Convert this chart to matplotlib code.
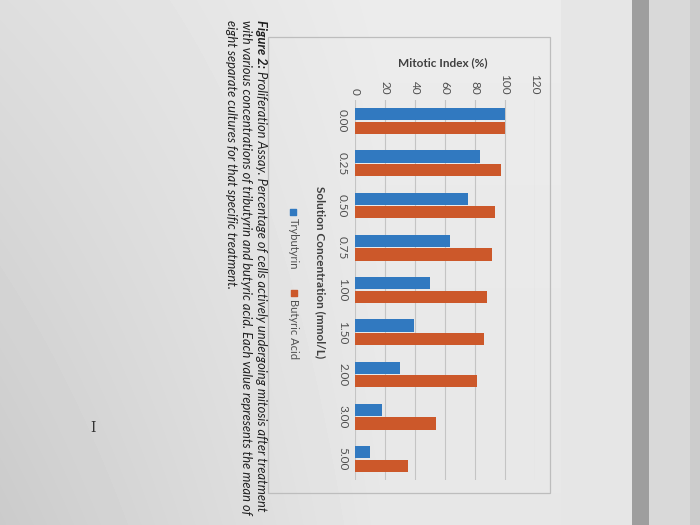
import numpy as np
import matplotlib
matplotlib.use("Agg")
import matplotlib.pyplot as plt
from matplotlib.patches import Rectangle

# ---- data ----
categories = ["0.00", "0.25", "0.50", "0.75", "1.00", "1.50", "2.00", "3.00", "5.00"]
tributyrin = [100, 83, 75, 63, 50, 39, 30, 18, 10]
butyric_acid = [100, 97, 93, 91, 88, 86, 81, 54, 35]
series_names = ["Trybutyrin", "Butyric Acid"]
value_ticks = [0, 20, 40, 60, 80, 100, 120]
value_title = "Mitotic Index (%)"
category_title = "Solution Concentration (mmol/L)"
caption_bold = "Figure 2:"
caption_lines = [
    " Proliferation Assay. Percentage of cells actively undergoing mitosis after treatment",
    "with various concentrations of tributyrin and butyric acid. Each value represents the mean of",
    "eight separate cultures for that specific treatment.",
]

blue = "#3179c0"
orange = "#cc582a"
plt.rcParams["font.family"] = ["Lato", "DejaVu Sans"]

W, H = 700, 525
fig = plt.figure(figsize=(7, 5.25), dpi=100)

# ---- photo-like background ----
bg = fig.add_axes([0, 0, 1, 1])
xx, yy = np.meshgrid(np.arange(W), np.arange(H))
v = 0.925 - 0.11 * np.clip((380 - xx) / 380, 0, 1) * (0.5 + 0.5 * yy / H) - 0.02 * (yy / H)
v = np.where(xx > 560, 0.90, v)
v = np.where((xx >= 632) & (xx < 649), 0.62, v)
v = np.where((xx >= 649) & (xx < 690), 0.85, v)
v = np.where(xx >= 690, 0.80, v)
bg.imshow(v, extent=[0, W, H, 0], aspect="auto", cmap="gray", vmin=0, vmax=1,
          interpolation="bilinear")
bg.set_xlim(0, W)
bg.set_ylim(H, 0)
bg.axis("off")
bg.add_patch(Rectangle((268, 37), 282, 456, fill=False, edgecolor="#bdbdbd", lw=0.9))

# ---- chart (rotated appearance: horizontal bars) ----
ax = fig.add_axes([355 / W, 1 - 480 / H, 180 / W, 380 / H])
ax.patch.set_alpha(0)
pos = np.arange(len(categories))
h = 0.29
ax.barh(pos - h / 2 - 0.015, tributyrin, h, color=blue, zorder=3)
ax.barh(pos + h / 2 + 0.015, butyric_acid, h, color=orange, zorder=3)
ax.set_xlim(0, 120)
ax.set_ylim(len(categories) - 0.5, -0.5)
ax.set_xticks(value_ticks)
ax.set_xticklabels([str(t) for t in value_ticks], rotation=-90, fontsize=8.5, color="#505050")
ax.xaxis.tick_top()
ax.set_yticks(pos)
ax.set_yticklabels(categories, rotation=-90, fontsize=8.5, color="#505050", va="center")
ax.tick_params(length=0)
ax.tick_params(axis="x", pad=4)
ax.tick_params(axis="y", pad=5)
for s in ax.spines.values():
    s.set_visible(False)
ax.grid(axis="x", color="#c4c4c4", lw=0.8, zorder=0)
ax.set_axisbelow(True)

# ---- titles ----
bg.text(443, 63, value_title, ha="center", va="center", fontsize=8.5,
        fontweight="bold", color="#404040")
bg.text(320, 272, category_title, rotation=-90, ha="center", va="center",
        fontsize=8.5, fontweight="bold", color="#404040")

# ---- legend (manually, rotated like the photo) ----
bg.scatter([293], [212], marker="s", s=14, color=blue)
bg.text(293, 218, series_names[0], rotation=-90, ha="center", va="top",
        fontsize=8, color="#505050")
bg.scatter([294], [293], marker="s", s=14, color=orange)
bg.text(294, 299, series_names[1], rotation=-90, ha="center", va="top",
        fontsize=8, color="#505050")

# ---- caption ----
fig.canvas.draw()
r = fig.canvas.get_renderer()
cap_fs = 9.3
t0 = bg.text(261, 20, caption_bold, rotation=-90, ha="center", va="top",
             fontsize=cap_fs, fontweight="bold", style="italic", color="#202020")
ext = t0.get_window_extent(renderer=r)
len_px = ext.height
bg.text(261, 20 + len_px, caption_lines[0], rotation=-90, ha="center", va="top",
        fontsize=cap_fs, style="italic", color="#202020")
bg.text(246, 20, caption_lines[1], rotation=-90, ha="center", va="top",
        fontsize=cap_fs, style="italic", color="#202020")
bg.text(231, 20, caption_lines[2], rotation=-90, ha="center", va="top",
        fontsize=cap_fs, style="italic", color="#202020")

# text cursor glyph from the screen
bg.text(93, 428, "I", ha="center", va="center", fontsize=10, color="#333333",
        family="DejaVu Serif")

fig.savefig("out.png", dpi=100)
